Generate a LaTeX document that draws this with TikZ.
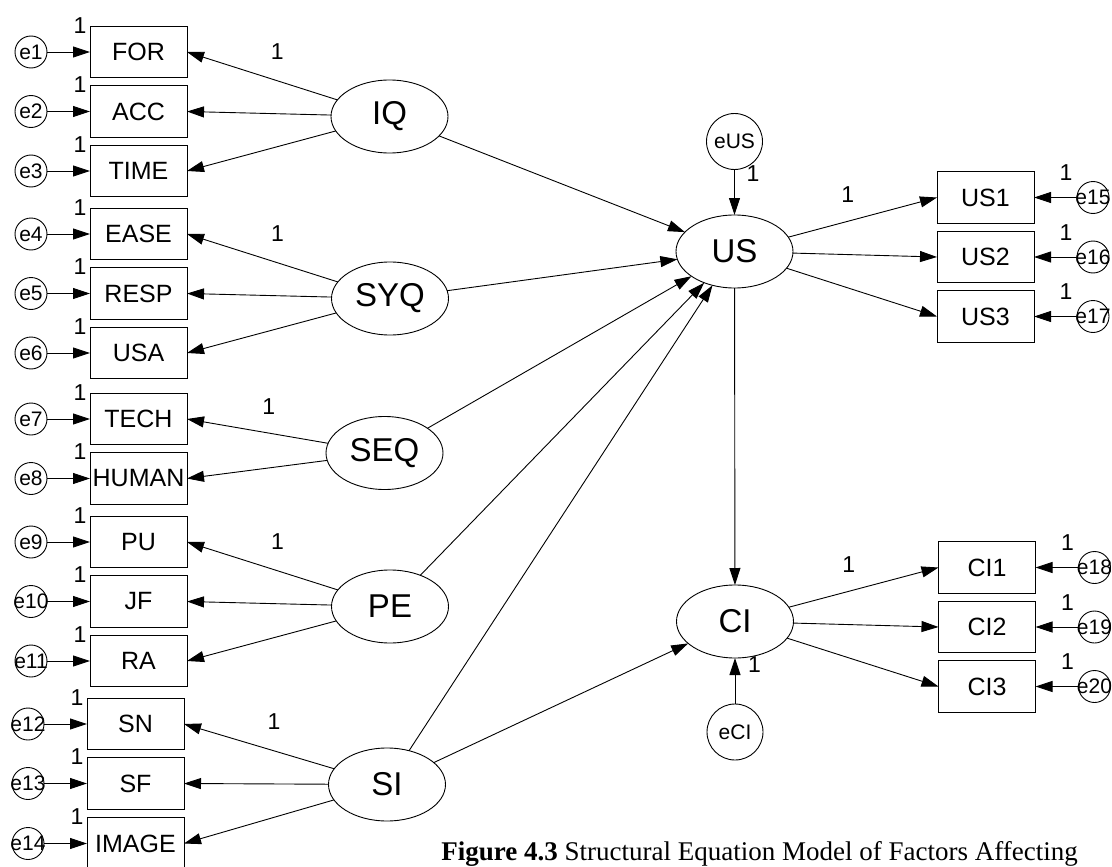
\documentclass[tikz,border=0pt]{standalone}
\usepackage{fontspec}
\setmainfont{Liberation Serif}
\setsansfont{Liberation Sans}
\usepackage{mathtools}
\usetikzlibrary{arrows.meta,positioning,shapes.geometric}

\begin{document}
\begin{tikzpicture}[x=1pt,y=-1pt,line width=.9pt]
  \tikzstyle{obs} = [draw,rectangle,minimum width=97pt,minimum height=51.5pt,inner sep=0pt,outer sep=0pt,font=\sffamily\fontsize{25}{27}\selectfont];
  \tikzstyle{lat} = [draw,ellipse,minimum width=117pt,minimum height=73pt,inner sep=0pt,outer sep=0pt,font=\sffamily\fontsize{33}{35}\selectfont];
  \tikzstyle{err} = [draw,circle,minimum size=32pt,inner sep=0pt,outer sep=0pt,font=\sffamily\fontsize{21}{23}\selectfont];
  \tikzstyle{dist} = [err,minimum size=56pt,font=\sffamily\fontsize{21}{23}\selectfont];
  \tikzstyle{wt} = [inner sep=0pt,font=\sffamily\fontsize{23}{25}\selectfont];
  \tikzstyle{arr} = [-{Triangle[length=17pt,width=11pt]}];
  \tikzset{ewt/.style={wt,pos=1,xshift=-10pt,yshift=26.5pt},
           ewr/.style={wt,pos=1,xshift=32pt,yshift=24.5pt}};
  \useasboundingbox (0,0) rectangle (1112,867);
  \clip (0,0) rectangle (1112,867);
  % indicators, left
  \node[obs] (FOR) at (138.5,52) {FOR};
  \node[obs,below=8pt of FOR] (ACC) {ACC};
  \node[obs,below=8pt of ACC] (TIME) {TIME};
  \node[obs,below=11.5pt of TIME] (EASE) {EASE};
  \node[obs,below=8pt of EASE] (RESP) {RESP};
  \node[obs,below=8pt of RESP] (USA) {USA};
  \node[obs,below=14.5pt of USA] (TECH) {TECH};
  \node[obs,below=8pt of TECH] (HUMAN) {HUMAN};
  \node[obs,below=12pt of HUMAN] (PU) {PU};
  \node[obs,below=8pt of PU] (JF) {JF};
  \node[obs,below=8pt of JF] (RA) {RA};
  \node[obs,below=11.5pt of RA,xshift=-3pt] (SN) {SN};
  \node[obs,below=8pt of SN] (SF) {SF};
  \node[obs,below=8.5pt of SF] (IMAGE) {IMAGE};
  % errors, left
  \node[err,left=43pt of FOR] (e1) {e1};
  \node[err,left=43pt of ACC] (e2) {e2};
  \node[err,left=43pt of TIME] (e3) {e3};
  \node[err,left=43pt of EASE] (e4) {e4};
  \node[err,left=43pt of RESP] (e5) {e5};
  \node[err,left=43pt of USA] (e6) {e6};
  \node[err,left=43pt of TECH] (e7) {e7};
  \node[err,left=43pt of HUMAN] (e8) {e8};
  \node[err,left=43pt of PU] (e9) {e9};
  \node[err,left=43pt of JF] (e10) {\clap{e10}};
  \node[err,left=43pt of RA] (e11) {\clap{e11}};
  \node[err,left=43pt of SN] (e12) {\clap{e12}};
  \node[err,left=43pt of SF] (e13) {\clap{e13}};
  \node[err,left=43pt of IMAGE] (e14) {\clap{e14}};
  % latent variables
  \node[lat] (IQ) at (389.5,116.5) {IQ};
  \node[lat] (SYQ) at (390,298.5) {SYQ};
  \node[lat] (SEQ) at (384.5,453) {SEQ};
  \node[lat] (PE) at (390,606.5) {PE};
  \node[lat] (SI) at (387,784.5) {SI};
  \node[lat] (US) at (734.5,251.5) {US};
  \node[lat] (CI) at (735,621.5) {CI};
  \node[dist,above=45.5pt of US] (eUS) {eUS};
  \node[dist,below=46pt of CI] (eCI) {eCI};
  % indicators, right
  \node[obs] (US1) at (985.5,197.5) {US1};
  \node[obs,below=8pt of US1] (US2) {US2};
  \node[obs,below=8pt of US2] (US3) {US3};
  \node[obs] (CI1) at (987,567.5) {CI1};
  \node[obs,below=8pt of CI1] (CI2) {CI2};
  \node[obs,below=8pt of CI2] (CI3) {CI3};
  \node[err,right=43pt of US1] (e15) {\clap{e15}};
  \node[err,right=43pt of US2] (e16) {\clap{e16}};
  \node[err,right=43pt of US3] (e17) {\clap{e17}};
  \node[err,right=43pt of CI1] (e18) {\clap{e18}};
  \node[err,right=43pt of CI2] (e19) {\clap{e19}};
  \node[err,right=43pt of CI3] (e20) {\clap{e20}};
  % error paths
  \draw[arr] (e1) -- (FOR) node[ewt] {1};
  \draw[arr] (e2) -- (ACC) node[ewt] {1};
  \draw[arr] (e3) -- (TIME) node[ewt] {1};
  \draw[arr] (e4) -- (EASE) node[ewt] {1};
  \draw[arr] (e5) -- (RESP) node[ewt] {1};
  \draw[arr] (e6) -- (USA) node[ewt] {1};
  \draw[arr] (e7) -- (TECH) node[ewt] {1};
  \draw[arr] (e8) -- (HUMAN) node[ewt] {1};
  \draw[arr] (e9) -- (PU) node[ewt] {1};
  \draw[arr] (e10) -- (JF) node[ewt] {1};
  \draw[arr] (e11) -- (RA) node[ewt] {1};
  \draw[arr] (e12) -- (SN) node[ewt] {1};
  \draw[arr] (e13) -- (SF) node[ewt] {1};
  \draw[arr] (e14) -- (IMAGE) node[ewt] {1};
  \draw[arr] (e15) -- (US1) node[ewr] {1};
  \draw[arr] (e16) -- (US2) node[ewr] {1};
  \draw[arr] (e17) -- (US3) node[ewr] {1};
  \draw[arr] (e18) -- (CI1) node[ewr] {1};
  \draw[arr] (e19) -- (CI2) node[ewr] {1};
  \draw[arr] (e20) -- (CI3) node[ewr] {1};
  % loadings
  \draw[arr] (IQ) -- (FOR.east) node[wt,pos=.4,yshift=29pt] {1};
  \draw[arr] (IQ) -- (ACC.east);
  \draw[arr] (IQ) -- (TIME.east);
  \draw[arr] (SYQ) -- (EASE.east) node[wt,pos=.4,yshift=29pt] {1};
  \draw[arr] (SYQ) -- (RESP.east);
  \draw[arr] (SYQ) -- (USA.east);
  \draw[arr] (SEQ) -- (TECH.east) node[wt,pos=.42,yshift=27pt] {1};
  \draw[arr] (SEQ) -- (HUMAN.east);
  \draw[arr] (PE) -- (PU.east) node[wt,pos=.4,yshift=29pt] {1};
  \draw[arr] (PE) -- (JF.east);
  \draw[arr] (PE) -- (RA.east);
  \draw[arr] (SI) -- (SN.east) node[wt,pos=.4,yshift=29pt] {1};
  \draw[arr] (SI) -- (SF.east);
  \draw[arr] (SI) -- (IMAGE.east);
  \draw[arr] (US) -- (US1.west) node[wt,pos=.4,yshift=27pt] {1};
  \draw[arr] (US) -- (US2.west);
  \draw[arr] (US) -- (US3.west);
  \draw[arr] (CI) -- (CI1.west) node[wt,pos=.4,yshift=27pt] {1};
  \draw[arr] (CI) -- (CI2.west);
  \draw[arr] (CI) -- (CI3.west);
  % structural paths
  \draw[arr] (IQ) -- (US);
  \draw[arr] (SYQ) -- (US);
  \draw[arr] (SEQ) -- (US);
  \draw[arr] (PE) -- (US);
  \draw[arr] (SI) -- (US);
  \draw[arr] (SI) -- (CI);
  \draw[arr] (US) -- (CI);
  \draw[arr] (eUS) -- node[wt,pos=.1,xshift=18.5pt] {1} (US);
  \draw[arr] (eCI) -- node[wt,pos=.85,xshift=19.5pt] {1} (CI);
  \node[anchor=base west,inner sep=0pt,font=\rmfamily\fontsize{27}{30}\selectfont] (caption) at (441,860) {\textbf{Figure 4.3} Structural Equation Model of Factors Affecting};
\end{tikzpicture}
\end{document}
